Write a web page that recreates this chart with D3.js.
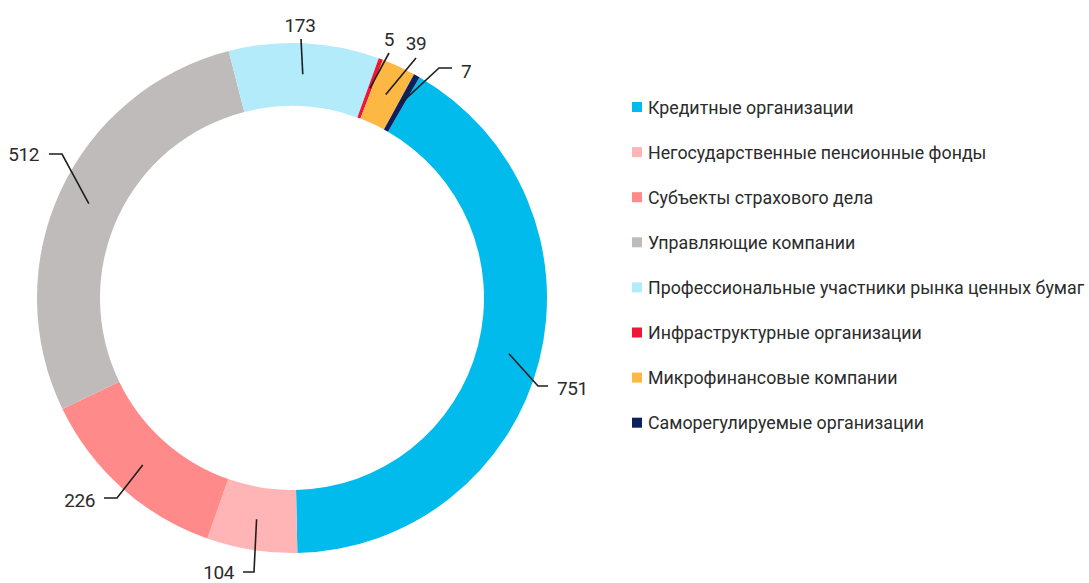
<!DOCTYPE html>
<html><head><meta charset="utf-8">
<script src="https://cdn.jsdelivr.net/npm/d3@7"></script>
<style>
  body { margin: 0; background: #fff; }
  text { font-family: Roboto, "Noto Sans", sans-serif; fill: #2b2b2b; }
</style>
</head><body>
<svg id="chart" width="1089" height="583"></svg>
<script>
// Участники финансового рынка по типам организаций
const categories = [
  "Кредитные организации",
  "Негосударственные пенсионные фонды",
  "Субъекты страхового дела",
  "Управляющие компании",
  "Профессиональные участники рынка ценных бумаг",
  "Инфраструктурные организации",
  "Микрофинансовые компании",
  "Саморегулируемые организации"
];
const values = [751, 104, 226, 512, 173, 5, 39, 7];
const colors = ["#00bbeb", "#ffb4b6", "#ff8a89", "#bfbbbb", "#b3ebfb", "#ee1639", "#fdb843", "#0c205e"];

// Leader-line layout for each value label, relative to the ring centre:
// bend point (or null), line end, text anchor point and alignment.
const labelLayout = [
  { bend: [246, 88],   end: [256, 88],   text: [265, 97],    anchor: "start"  },
  { bend: [-38, 274],  end: [-49, 274],  text: [-58, 281],   anchor: "end"    },
  { bend: [-175, 200], end: [-188, 200], text: [-197, 209],  anchor: "end"    },
  { bend: [-230, -144],end: [-243, -144],text: [-253, -137], anchor: "end"    },
  { bend: null,        end: [9, -259],   text: [8, -266],    anchor: "middle" },
  { bend: null,        end: [97, -245],  text: [97, -252],   anchor: "middle" },
  { bend: null,        end: [124, -240], text: [124, -248],  anchor: "middle" },
  { bend: [147, -230], end: [160, -230], text: [169, -220],  anchor: "start"  }
];

const cx = 292, cy = 298;
const outerR = 255, innerR = 192, leaderR = 224;

const svg = d3.select("#chart");
const color = d3.scaleOrdinal().domain(categories).range(colors);

const rows = categories.map((c, i) => ({ name: c, value: values[i], layout: labelLayout[i] }));

const pie = d3.pie()
  .value(d => d.value)
  .sort(null)
  .startAngle(Math.PI / 6)
  .endAngle(Math.PI / 6 + 2 * Math.PI);

const arc = d3.arc().innerRadius(innerR).outerRadius(outerR);
const ring = svg.append("g").attr("transform", `translate(${cx},${cy})`);

const arcs = pie(rows);

ring.selectAll("path.slice")
  .data(arcs)
  .join("path")
  .attr("class", "slice")
  .attr("d", arc)
  .attr("fill", d => color(d.data.name));

// leader lines start in the middle of each slice's band
const leaderArc = d3.arc().innerRadius(leaderR).outerRadius(leaderR);

ring.selectAll("path.leader")
  .data(arcs)
  .join("path")
  .attr("class", "leader")
  .attr("fill", "none")
  .attr("stroke", "#1e1e1e")
  .attr("stroke-width", 1.6)
  .attr("d", d => {
    const p = leaderArc.centroid(d);
    const L = d.data.layout;
    const pts = [p];
    if (L.bend) pts.push(L.bend);
    pts.push(L.end);
    return d3.line()(pts);
  });

ring.selectAll("text.value")
  .data(arcs)
  .join("text")
  .attr("class", "value")
  .attr("x", d => d.data.layout.text[0])
  .attr("y", d => d.data.layout.text[1])
  .attr("text-anchor", d => d.data.layout.anchor)
  .style("font-size", "19px")
  .style("letter-spacing", "-0.4px")
  .text(d => d3.format("d")(d.data.value));

// legend
const legend = svg.append("g").attr("transform", "translate(632,107)");
const legendStep = 45.1;
const item = legend.selectAll("g.item")
  .data(categories)
  .join("g")
  .attr("class", "item")
  .attr("transform", (d, i) => `translate(0,${i * legendStep})`);

item.append("rect")
  .attr("x", 0).attr("y", -5)
  .attr("width", 10).attr("height", 10)
  .attr("fill", d => color(d));

item.append("text")
  .attr("x", 16).attr("y", 6.5)
  .style("font-size", "17.8px")
  .text(d => d);
</script>
</body></html>
